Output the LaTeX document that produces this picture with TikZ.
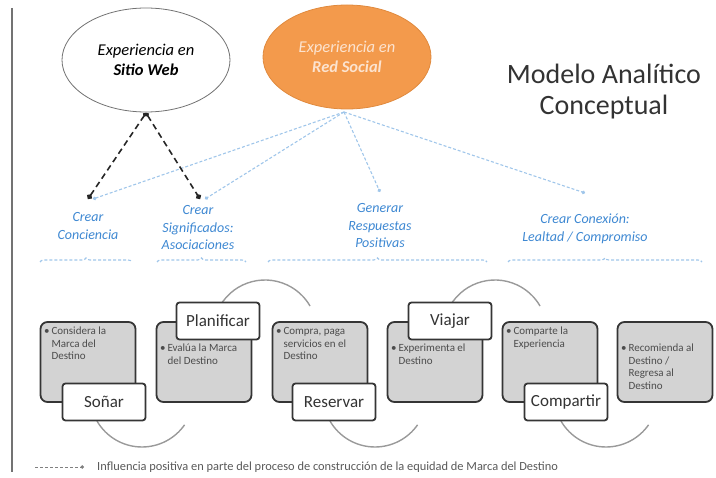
\documentclass[tikz,border=0pt]{standalone}
\usepackage{fontspec}
\setmainfont{Carlito}
\usetikzlibrary{shapes.geometric,arrows.meta,decorations.pathreplacing}
\definecolor{orng}{HTML}{F39A4C}
\definecolor{orngdk}{HTML}{E08A3E}
\definecolor{orngtxt}{HTML}{FCE3CF}
\definecolor{bluetxt}{HTML}{3E88D2}
\definecolor{blueln}{HTML}{A0C6EA}
\definecolor{boxgray}{HTML}{D3D3D3}
\definecolor{boxline}{HTML}{353535}
\definecolor{arcgray}{HTML}{9A9A9A}
\begin{document}
\begin{tikzpicture}[x=1pt,y=-1pt,
  ell/.style={ellipse, minimum width=168pt, minimum height=104pt, align=center, font=\fontsize{16.5}{20}\selectfont\itshape},
  lbl/.style={align=center, text=bluetxt, font=\fontsize{14}{17.5}\selectfont\itshape},
  graybox/.style={draw=boxline, fill=boxgray, line width=1.8pt, rounded corners=7pt, minimum width=95pt, minimum height=80pt},
  tagbox/.style={draw=boxline, fill=white, line width=1.8pt, rounded corners=3pt, minimum width=83pt, minimum height=37pt, font=\fontsize{17}{18}\selectfont, text=black!80},
  btxt/.style={anchor=north west, inner sep=0pt, font=\fontsize{11}{12.5}\selectfont, text=black!70},
  arcline/.style={draw=arcgray, line width=1.4pt},
  blkarrow/.style={draw=black!85, line width=1.6pt, dash pattern=on 6pt off 4pt, {Circle[open,length=4pt]}-{Circle[length=5.5pt]}},
  bluarrow/.style={draw=blueln, line width=1.1pt, dash pattern=on 3pt off 2pt, -{Circle[length=3.5pt]}},
  bracestyle/.style={draw=blueln, line width=1.1pt, dash pattern=on 3pt off 2pt, decorate, decoration={brace, amplitude=4pt}}
]
\useasboundingbox (0,0) rectangle (716,478);
% left rule
\draw[black!55, line width=1.5pt] (12,8) -- (12,472);

% ellipses
\node[ell, draw=black!55, line width=0.8pt, fill=white] (web) at (146,60) {Experiencia en\\\textbf{Sitio Web}};
\node[ell, draw=orngdk, line width=0.8pt, fill=orng, text=orngtxt] (red) at (347,57) {Experiencia en\\\textbf{Red Social}};

% title
\node[align=center, font=\fontsize{28}{31}\selectfont, text=black!80] (title) at (604,92) {Modelo Analítico\\Conceptual};

% labels
\node[lbl] (c1) at (88,226) {Crear\\Conciencia};
\node[lbl] (c2) at (198,228) {Crear\\Significados:\\Asociaciones};
\node[lbl] (c3) at (380,226) {Generar\\Respuestas\\Positivas};
\node[lbl] (c4) at (585,229) {Crear Conexión:\\Lealtad / Compromiso};

\coordinate (w0) at (146,113);
\coordinate (r0) at (344,112);
\coordinate (t1) at (88,199);
\coordinate (t2) at (200,199);
\coordinate (b1) at (93,199);
\coordinate (b2) at (205,199);
\coordinate (b3) at (380,192);
\coordinate (b4) at (585,193);

% arrows
\draw[bluarrow] (r0) -- (b1);
\draw[bluarrow] (r0) -- (b2);
\draw[bluarrow] (r0) -- (b3);
\draw[bluarrow] (r0) -- (b4);
\draw[blkarrow] (w0) -- (t1);
\draw[blkarrow] (w0) -- (t2);

% braces
\coordinate (k1a) at (40,262); \coordinate (k1b) at (132,262);
\coordinate (k2a) at (157,262); \coordinate (k2b) at (246,262);
\coordinate (k3a) at (268,262); \coordinate (k3b) at (487,262);
\coordinate (k4a) at (508,262); \coordinate (k4b) at (702,262);
\draw[bracestyle] (k1a) -- (k1b);
\draw[bracestyle] (k2a) -- (k2b);
\draw[bracestyle] (k3a) -- (k3b);
\draw[bracestyle] (k4a) -- (k4b);

% arcs behind boxes
\draw[arcline] (142,395) ++(150:52) arc[start angle=150, end angle=35, radius=52];
\draw[arcline] (265,332) ++(205:52) arc[start angle=205, end angle=330, radius=52];
\draw[arcline] (375,395) ++(150:52) arc[start angle=150, end angle=35, radius=52];
\draw[arcline] (495,332) ++(205:52) arc[start angle=205, end angle=330, radius=52];
\draw[arcline] (606,395) ++(150:52) arc[start angle=150, end angle=35, radius=52];

% gray boxes
\node[graybox] (g1) at (88,362) {};
\node[graybox] (g2) at (204,362) {};
\node[graybox] (g3) at (320,362) {};
\node[graybox] (g4) at (435,362) {};
\node[graybox] (g5) at (550,362) {};
\node[graybox] (g6) at (665,362) {};

\node[btxt] (x1) at (44,326) {\begin{tabular}{@{}l@{\,}l@{}}•&Considera la\\&Marca del\\&Destino\end{tabular}};
\node[btxt] (x2) at (160,343) {\begin{tabular}{@{}l@{\,}l@{}}•&Evalúa la Marca\\&del Destino\end{tabular}};
\node[btxt] (x3) at (276,326) {\begin{tabular}{@{}l@{\,}l@{}}•&Compra, paga\\&servicios en el\\&Destino\end{tabular}};
\node[btxt] (x4) at (391,343) {\begin{tabular}{@{}l@{\,}l@{}}•&Experimenta el\\&Destino\end{tabular}};
\node[btxt] (x5) at (506,326) {\begin{tabular}{@{}l@{\,}l@{}}•&Comparte la\\&Experiencia\end{tabular}};
\node[btxt] (x6) at (621,343) {\begin{tabular}{@{}l@{\,}l@{}}•&Recomienda al\\&Destino /\\&Regresa al\\&Destino\end{tabular}};

% tag boxes
\node[tagbox] (s1) at (104,402) {Soñar};
\node[tagbox] (s2) at (218,321) {Planificar};
\node[tagbox] (s3) at (334,402) {Reservar};
\node[tagbox] (s4) at (450,321) {Viajar};
\node[tagbox] (s5) at (566,402) {Compartir};

% legend
\coordinate (l0) at (35,467);
\coordinate (l1) at (84,467);
\draw[draw=black!50, line width=0.9pt, dash pattern=on 3pt off 2pt, -{Circle[length=3.5pt]}] (l0) -- (l1);
\node[anchor=west, font=\fontsize{12.4}{14}\selectfont, text=black!65, inner sep=0pt] (leg) at (97,467) {Influencia positiva en parte del proceso de construcción de la equidad de Marca del Destino};
\end{tikzpicture}
\end{document}
